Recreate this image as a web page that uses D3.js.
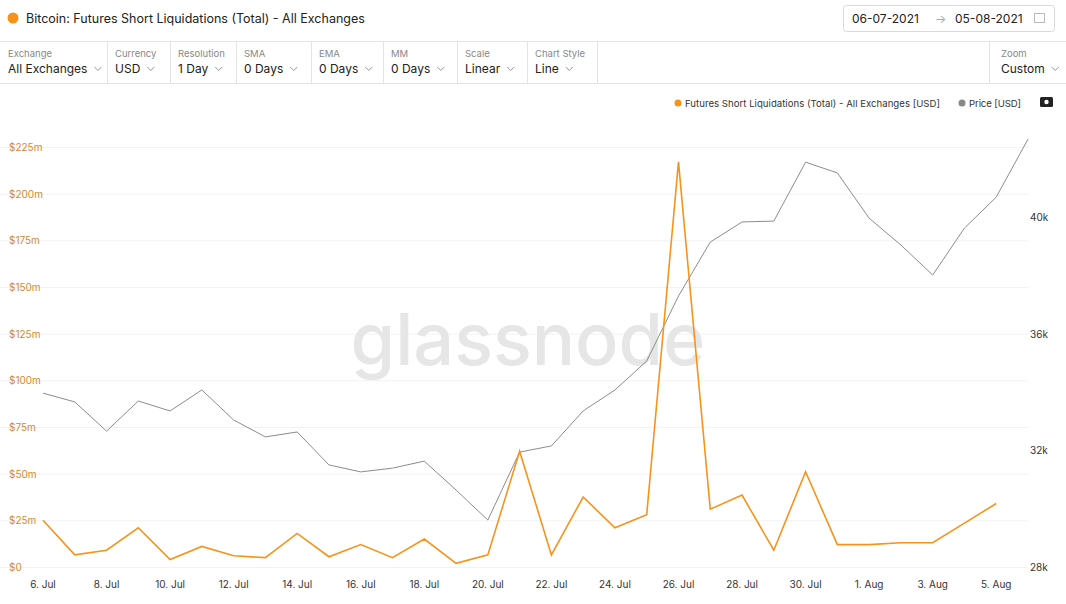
<!DOCTYPE html>
<html><head><meta charset="utf-8">
<script src="https://cdn.jsdelivr.net/npm/d3@7"></script>
<style>
body{margin:0;background:#fff;font-family:Inter,"Open Sans",sans-serif;}
svg text{font-family:Inter,"Open Sans",sans-serif;}
</style></head><body>
<svg id="c" width="1066" height="604"></svg>
<script>
const dates = ["2021-07-06","2021-07-07","2021-07-08","2021-07-09","2021-07-10","2021-07-11","2021-07-12","2021-07-13","2021-07-14","2021-07-15","2021-07-16","2021-07-17","2021-07-18","2021-07-19","2021-07-20","2021-07-21","2021-07-22","2021-07-23","2021-07-24","2021-07-25","2021-07-26","2021-07-27","2021-07-28","2021-07-29","2021-07-30","2021-07-31","2021-08-01","2021-08-02","2021-08-03","2021-08-04","2021-08-05","2021-08-06"];
const liquidations = [25,6.5,9,21,4,11,6,5,18,5.5,12,5,15,2,6.5,62,6.5,37.5,21,28,217,31,38.5,9,51,12,12,13,13,23.5,34,null];
const price = [33.96,33.66,32.66,33.69,33.35,34.07,33.04,32.46,32.63,31.5,31.26,31.39,31.63,30.64,29.61,31.94,32.15,33.35,34.07,35.06,37.29,39.14,39.83,39.86,41.88,41.51,39.96,39.04,38.01,39.62,40.68,42.67];
const leftTicks = [0,25,50,75,100,125,150,175,200,225];
const rightTicks = [28,32,36,40];
const xTickDates = ["2021-07-06","2021-07-08","2021-07-10","2021-07-12","2021-07-14","2021-07-16","2021-07-18","2021-07-20","2021-07-22","2021-07-24","2021-07-26","2021-07-28","2021-07-30","2021-08-01","2021-08-03","2021-08-05"];
const filters = [["Exchange","All Exchanges"],["Currency","USD"],["Resolution","1 Day"],["SMA","0 Days"],["EMA","0 Days"],["MM","0 Days"],["Scale","Linear"],["Chart Style","Line"]];

const svg = d3.select("#c");
const parse = d3.utcParse("%Y-%m-%d");
const fmtM = d3.utcFormat("%b");
function chev(x,y){svg.append("path").attr("d",`M${x},${y-3}l3.5,3.5l3.5,-3.5`).attr("fill","none").attr("stroke","#888").attr("stroke-width",0.9);}
// header
svg.append("circle").attr("cx",13).attr("cy",18).attr("r",5.5).attr("fill","#f7931a");
svg.append("text").attr("x",26).attr("y",23).attr("font-size",12.5).attr("fill","#222").text("Bitcoin: Futures Short Liquidations (Total) - All Exchanges");
svg.append("rect").attr("x",843.5).attr("y",5.5).attr("width",211).attr("height",26).attr("rx",3).attr("fill","none").attr("stroke","#d9d9d9");
svg.append("text").attr("x",852).attr("y",23).attr("font-size",12).attr("fill","#222").text("06-07-2021");
svg.append("text").attr("x",935).attr("y",23).attr("font-size",12).attr("fill","#aaa").text("→");
svg.append("text").attr("x",955).attr("y",23).attr("font-size",12).attr("fill","#222").text("05-08-2021");
svg.append("rect").attr("x",1034.5).attr("y",13.5).attr("width",10).attr("height",9).attr("fill","none").attr("stroke","#bbb");
svg.append("line").attr("x1",0).attr("x2",1066).attr("y1",41.5).attr("y2",41.5).attr("stroke","#e3e3e3");
svg.append("line").attr("x1",0).attr("x2",1066).attr("y1",83.5).attr("y2",83.5).attr("stroke","#e3e3e3");
const fx = [0,107,170,236,311,383,457,527,597];
filters.forEach((f,i)=>{
  const x = fx[i]+8;
  svg.append("text").attr("x",x).attr("y",57).attr("font-size",9.5).attr("fill","#888").text(f[0]);
  const t = svg.append("text").attr("x",x).attr("y",73).attr("font-size",12).attr("fill","#222").text(f[1]);
  chev(x+t.node().getComputedTextLength()+7,70);
  svg.append("line").attr("x1",fx[i+1]+.5).attr("x2",fx[i+1]+.5).attr("y1",41).attr("y2",83).attr("stroke","#e3e3e3");
});
svg.append("line").attr("x1",989.5).attr("x2",989.5).attr("y1",41).attr("y2",83).attr("stroke","#e3e3e3");
svg.append("text").attr("x",1001).attr("y",57).attr("font-size",9.5).attr("fill","#888").text("Zoom");
const zt=svg.append("text").attr("x",1001).attr("y",73).attr("font-size",12).attr("fill","#222").text("Custom");
chev(1001+zt.node().getComputedTextLength()+7,70);

// scales
const x = d3.scaleUtc().domain([parse(dates[0]),parse(dates[31])]).range([43,1028]);
const yL = d3.scaleLinear().domain([0,225]).range([567,147]);
const yR = d3.scaleLinear().domain([28,40]).range([567,217]);

// grid
svg.append("g").selectAll("line").data(leftTicks).join("line")
  .attr("x1",0).attr("x2",1028).attr("y1",d=>yL(d)+.5).attr("y2",d=>yL(d)+.5).attr("stroke","#f2f2f2");
// watermark
svg.append("text").attr("x",528).attr("y",365).attr("text-anchor","middle").attr("font-size",72).attr("fill","#e6e6e6").attr("font-weight",500).text("glassnode");

// axes labels
svg.append("g").selectAll("text").data(leftTicks).join("text")
  .attr("x",9).attr("y",d=>yL(d)+4).attr("font-size",10).attr("fill","#d18a2e").text(d=>"$"+d+(d?"m":""));
svg.append("g").selectAll("text").data(rightTicks).join("text")
  .attr("x",1030).attr("y",d=>yR(d)+4).attr("font-size",10).attr("fill","#333").text(d=>d+"k");
svg.append("g").selectAll("text").data(xTickDates).join("text")
  .attr("x",d=>x(parse(d))).attr("y",588).attr("text-anchor","middle").attr("font-size",10).attr("fill","#333")
  .text(d=>{const t=parse(d);return t.getUTCDate()+". "+fmtM(t);});

// lines
const pts = dates.map((d,i)=>({t:parse(d),l:liquidations[i],p:price[i]}));
svg.append("path").datum(pts).attr("fill","none").attr("stroke","#8c8c8c").attr("stroke-width",1)
  .attr("d",d3.line().x(d=>x(d.t)).y(d=>yR(d.p)));
svg.append("path").datum(pts.filter(d=>d.l!=null)).attr("fill","none").attr("stroke","#f7931a").attr("stroke-width",1.6)
  .attr("d",d3.line().x(d=>x(d.t)).y(d=>yL(d.l)));

// legend
svg.append("circle").attr("cx",678).attr("cy",103).attr("r",3.5).attr("fill","#f7931a");
svg.append("text").attr("x",685).attr("y",107).attr("font-size",9.6).attr("fill","#333").attr("textLength",255).text("Futures Short Liquidations (Total) - All Exchanges [USD]");
svg.append("circle").attr("cx",962).attr("cy",103).attr("r",3.5).attr("fill","#888");
svg.append("text").attr("x",969).attr("y",107).attr("font-size",9.6).attr("fill","#333").attr("textLength",52).text("Price [USD]");
svg.append("rect").attr("x",1040).attr("y",97).attr("width",13).attr("height",10).attr("rx",1.5).attr("fill","#222");
svg.append("circle").attr("cx",1046.5).attr("cy",102).attr("r",2.2).attr("fill","#fff");
</script></body></html>
